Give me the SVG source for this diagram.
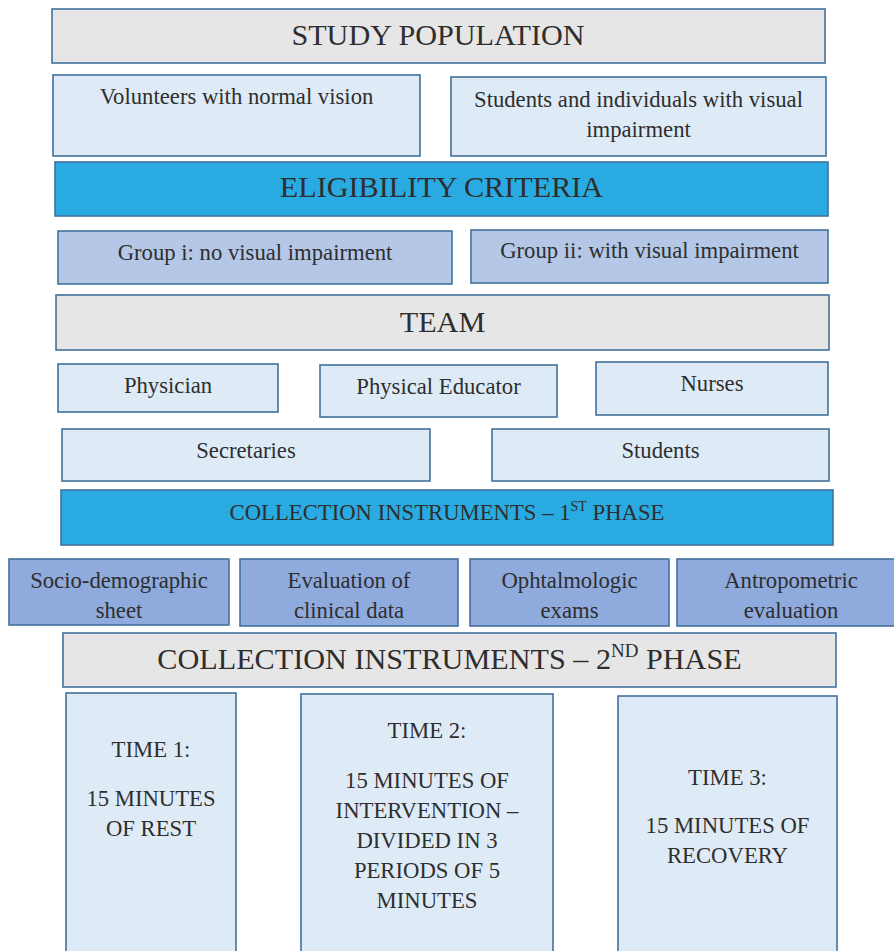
<svg xmlns="http://www.w3.org/2000/svg" width="894" height="951" viewBox="0 0 894 951">
<style>
rect{stroke:#41719c;stroke-width:1.6}
.gray{fill:#e6e6e6}
.light{fill:#deebf7}
.cyan{fill:#29abe2}
.grp{fill:#b4c7e7}
.ins{fill:#8faadc}
text{font-family:"Liberation Serif","Times New Roman",serif;fill:#2e2e2e;text-anchor:middle}
.big{font-size:30.2px}
.sm{font-size:22.7px}
.sup{font-size:14px}
</style>
<rect width="894" height="951" fill="#ffffff" style="stroke:none"/>
<g id="connectors"/>
<g id="study-population"><rect class="gray" x="52" y="9" width="773" height="54"/><text class="big" x="438" y="45">STUDY POPULATION</text></g>
<g id="volunteers"><rect class="light" x="53" y="75" width="367" height="81"/><text class="sm" x="236.5" y="104">Volunteers with normal vision</text></g>
<g id="students-vi"><rect class="light" x="451" y="77" width="375" height="79"/><text class="sm" x="638.5" y="107">Students and individuals with visual</text><text class="sm" x="638.5" y="137">impairment</text></g>
<g id="eligibility"><rect class="cyan" x="55" y="162" width="773" height="54"/><text class="big" x="441.5" y="197">ELIGIBILITY CRITERIA</text></g>
<g id="group-i"><rect class="grp" x="58" y="231" width="394" height="53"/><text class="sm" x="255" y="260">Group i: no visual impairment</text></g>
<g id="group-ii"><rect class="grp" x="471" y="230" width="357" height="53"/><text class="sm" x="649.5" y="258">Group ii: with visual impairment</text></g>
<g id="team"><rect class="gray" x="56" y="295" width="773" height="55"/><text class="big" x="442.5" y="332">TEAM</text></g>
<g id="physician"><rect class="light" x="58" y="364" width="220" height="48"/><text class="sm" x="168" y="393">Physician</text></g>
<g id="physical-educator"><rect class="light" x="320" y="365" width="237" height="52"/><text class="sm" x="438.5" y="394">Physical Educator</text></g>
<g id="nurses"><rect class="light" x="596" y="362" width="232" height="53"/><text class="sm" x="712" y="391">Nurses</text></g>
<g id="secretaries"><rect class="light" x="62" y="429" width="368" height="52"/><text class="sm" x="246" y="458">Secretaries</text></g>
<g id="students"><rect class="light" x="492" y="429" width="337" height="52"/><text class="sm" x="660.5" y="458">Students</text></g>
<g id="phase1"><rect class="cyan" x="61" y="490" width="772" height="55"/><text class="sm" x="447" y="520">COLLECTION INSTRUMENTS – 1<tspan class="sup" dy="-9">ST</tspan><tspan dy="9"> PHASE</tspan></text></g>
<g id="socio"><rect class="ins" x="9" y="559" width="220" height="66"/><text class="sm" x="119" y="588">Socio-demographic</text><text class="sm" x="119" y="618">sheet</text></g>
<g id="clinical"><rect class="ins" x="240" y="559" width="218" height="67"/><text class="sm" x="349" y="588">Evaluation of</text><text class="sm" x="349" y="618">clinical data</text></g>
<g id="ophtalmologic"><rect class="ins" x="470" y="559" width="199" height="67"/><text class="sm" x="569.5" y="588">Ophtalmologic</text><text class="sm" x="569.5" y="618">exams</text></g>
<g id="antropometric"><rect class="ins" x="677" y="559" width="228" height="67"/><text class="sm" x="791" y="588">Antropometric</text><text class="sm" x="791" y="618">evaluation</text></g>
<g id="phase2"><rect class="gray" x="63" y="633" width="773" height="54"/><text class="big" x="449.5" y="669">COLLECTION INSTRUMENTS – 2<tspan class="sup" style="font-size:19px" dy="-12">ND</tspan><tspan dy="12"> PHASE</tspan></text></g>
<g id="time1"><rect class="light" x="66" y="693" width="170" height="270"/><text class="sm" x="151" y="757">TIME 1:</text><text class="sm" x="151" y="806">15 MINUTES</text><text class="sm" x="151" y="836">OF REST</text></g>
<g id="time2"><rect class="light" x="301" y="694" width="252" height="270"/><text class="sm" x="427" y="738">TIME 2:</text><text class="sm" x="427" y="788">15 MINUTES OF</text><text class="sm" x="427" y="818">INTERVENTION –</text><text class="sm" x="427" y="848">DIVIDED IN 3</text><text class="sm" x="427" y="878">PERIODS OF 5</text><text class="sm" x="427" y="908">MINUTES</text></g>
<g id="time3"><rect class="light" x="618" y="696" width="219" height="270"/><text class="sm" x="727.5" y="785">TIME 3:</text><text class="sm" x="727.5" y="833">15 MINUTES OF</text><text class="sm" x="727.5" y="863">RECOVERY</text></g>
</svg>
